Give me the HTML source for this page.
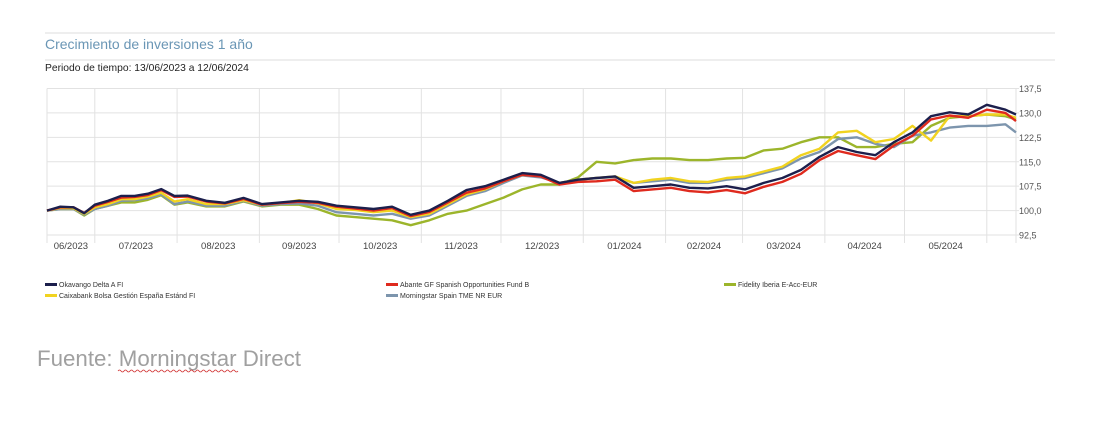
<!DOCTYPE html>
<html><head><meta charset="utf-8"><style>
body{margin:0;width:1102px;height:433px;background:#fff;overflow:hidden;font-family:"Liberation Sans",sans-serif}
svg{position:absolute;left:0;top:0}
</style></head><body>
<svg width="1102" height="433">
<line x1="45" y1="33" x2="1055" y2="33" stroke="#ddd"/>
<text x="45" y="49" font-size="14" fill="#6a96b5">Crecimiento de inversiones 1 año</text>
<line x1="45" y1="60" x2="1055" y2="60" stroke="#ddd"/>
<text x="45" y="71" font-size="10.3" fill="#222">Periodo de tiempo: 13/06/2023 a 12/06/2024</text>
<g id="grid"></g><g id="lines"></g><g id="axes"></g><g id="legend"></g>
<text x="37" y="366" font-size="22.3" fill="#a0a0a0">Fuente: Morningstar Direct</text>
<path d="M118 371 q1.5 -2 3 0 t3 0 t3 0 t3 0 t3 0 t3 0 t3 0 t3 0 t3 0 t3 0 t3 0 t3 0 t3 0 t3 0 t3 0 t3 0 t3 0 t3 0 t3 0 t3 0 t3 0 t3 0 t3 0 t3 0 t3 0 t3 0 t3 0 t3 0 t3 0 t3 0 t3 0 t3 0 t3 0 t3 0 t3 0 t3 0 t3 0 t3 0 t3 0 t3 0" fill="none" stroke="#d03030" stroke-width="0.8"/>
</svg>
<script>
const days=[0,5,10,14,18,23,28,33,38,43,48,53,60,67,74,81,88,95,102,109,116,123,130,137,144,151,158,165,172,179,186,193,200,207,214,221,228,235,242,249,256,263,270,277,284,291,298,305,312,319,326,333,340,347,354,361,365];
const okavango=[100,101.2,101,99.2,101.8,103,104.5,104.5,105.2,106.6,104.5,104.6,103,102.4,103.9,102,102.5,103,102.7,101.5,101,100.5,101.2,98.7,100,103,106.3,107.5,109.5,111.5,111,108.5,109.5,110,110.5,107,107.5,108,107,106.8,107.5,106.5,108.5,110,112.5,116.5,119.5,118,117,121,124,129,130.2,129.5,132.5,131,129.5];
const abante=[100,101,101,99.3,101.5,102.7,104,104.2,104.8,106.3,104.2,104.3,102.8,102.2,103.6,101.8,102.3,102.7,102.4,101.2,100.6,100,100.8,98.3,99.6,102.5,105.5,106.8,109,111,110.5,108,108.8,109,109.5,106,106.5,107,106,105.6,106.3,105.3,107.3,108.8,111.3,115.5,118.3,117,115.8,120,123,128,129.2,128.5,131,130,127.5];
const fidelity=[100,100.5,100.5,98.5,100.5,101.5,102.5,102.5,103.3,104.7,101.8,102.5,101.3,101.3,102.8,101.3,101.8,101.8,100.5,98.5,98,97.5,97,95.5,97,99,100,102,104,106.5,108,108,110.2,115,114.5,115.5,116,116,115.5,115.5,116,116.2,118.5,119,121,122.5,122.5,119.5,119.5,120.5,121,126,128.5,129,129.5,129,128];
const caixabank=[100,100.8,100.7,99,101,102,103.5,103.5,104.3,105.5,102.8,103.5,102,102,103.2,101.8,102.3,103.2,102.2,100.5,100.2,99.5,100,98,99,102,105,106.5,109,111,110.7,108.5,109.5,110,110.5,108.5,109.5,110,109,108.8,110,110.5,112,113.5,117,119,124,124.5,121,122,126,121.5,129,129,129.5,129.5,128.5];
const morningstar=[100,100.5,100.5,98.8,100.5,101.5,103,103.2,103.8,105,102,102.8,101.5,101.5,103,101.5,102,102.2,101.5,99.5,99,98.5,99,97.5,98.5,101.5,104.5,106,108.5,110.8,110.2,108.5,109.5,110,110.3,108.5,109,109.5,108.5,108.5,109.5,110,111.5,113,116,118,122,122.5,120.5,119.5,123,124,125.5,126,126,126.5,124];
const yTicks=[92.5,100,107.5,115,122.5,130,137.5];
const yTickLabels=["92,5","100,0","107,5","115,0","122,5","130,0","137,5"];
const monthDays=[18,49,80,110,141,171,202,233,262,293,323,354];
const monthLabels=["06/2023","07/2023","08/2023","09/2023","10/2023","11/2023","12/2023","01/2024","02/2024","03/2024","04/2024","05/2024"];
const seriesNames=["Okavango Delta A FI","Abante GF Spanish Opportunities Fund B","Fidelity Iberia E-Acc-EUR","Caixabank Bolsa Gestión España Estánd FI","Morningstar Spain TME NR EUR"];
const NS="http://www.w3.org/2000/svg";
const X0=47,X1=1016,Y0=235,Y1=88.5;
const xs=d=>X0+d/365*(X1-X0);
const ys=v=>Y0-(v-92.5)/45*(Y0-Y1);
function mk(t,a,p){const e=document.createElementNS(NS,t);for(const k in a)e.setAttribute(k,a[k]);p.appendChild(e);return e;}
const grid=document.getElementById('grid'),axes=document.getElementById('axes'),lines=document.getElementById('lines'),legend=document.getElementById('legend');
yTicks.forEach((v,i)=>{
 const l=mk('line',{x1:X0,x2:X1+3,y1:ys(v),y2:ys(v),stroke:'#e2e2e2'},grid);
 
 
 const t=mk('text',{x:X1+3,y:ys(v)+3.5,'font-size':9,fill:'#555'},axes);t.textContent=yTickLabels[i];
 
 
});
const bounds=[0].concat(monthDays);
bounds.concat([365]).forEach(d=>{
 const l=mk('line',{x1:xs(d),x2:xs(d),y1:Y1,y2:Y0+8,stroke:'#e2e2e2'},grid);
 
 
});
monthLabels.forEach((m,i)=>{
 const mid=(xs(bounds[i])+xs(bounds[i+1]))/2;
 const t=mk('text',{x:mid,y:Y0+14,'font-size':9.5,fill:'#444','text-anchor':'middle'},axes);t.textContent=m;
 
 
});
const order=[[fidelity,'#9cb52b','fidelity-line'],[morningstar,'#7d95ad','morningstar-line'],[caixabank,'#f1d320','caixabank-line'],[abante,'#df2a1e','abante-line'],[okavango,'#1c1f4c','okavango-line']];
order.forEach(([vals,c,n])=>{
 const d=vals.map((v,i)=>(i?'L':'M')+xs(days[i]).toFixed(1)+' '+ys(v).toFixed(1)).join(' ');
 const p=mk('path',{d:d,fill:'none',stroke:c,'stroke-width':2.4,'stroke-linejoin':'round'},lines);
 
 
});
const legPos=[[45,286],[386,286],[724,286],[45,297],[386,297]];
const legCol=['#1c1f4c','#df2a1e','#9cb52b','#f1d320','#7d95ad'];
seriesNames.forEach((s,i)=>{
 const [x,y]=legPos[i];
 const g=mk('g',{},legend);
 
 
 mk('rect',{x:x,y:y-3,width:12,height:3,fill:legCol[i]},g);
 const t=mk('text',{x:x+14,y:y+1,'font-size':7,fill:'#333'},g);t.textContent=s;
});
</script>
</body></html>
